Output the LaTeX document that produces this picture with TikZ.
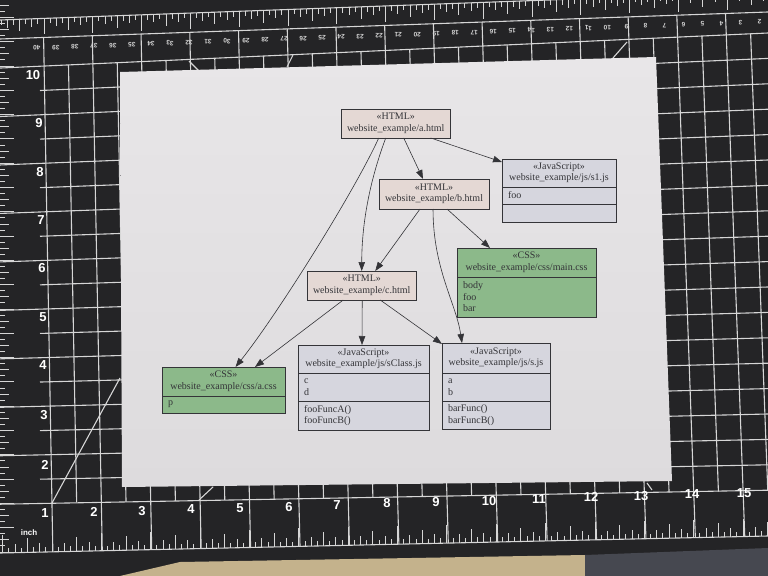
\documentclass[tikz,border=0pt]{standalone}
\usepackage{fontspec}
\setmainfont{Liberation Serif}
\newfontfamily\rulerfont{Liberation Sans}
\usetikzlibrary{arrows.meta,calc}
\definecolor{matbg}{RGB}{36,36,38}
\definecolor{gridc}{RGB}{214,214,214}
\definecolor{paperT}{RGB}{232,230,232}
\definecolor{paperB}{RGB}{221,219,221}
\definecolor{htmlc}{RGB}{228,216,212}
\definecolor{jsc}{RGB}{214,214,222}
\definecolor{cssc}{RGB}{140,185,138}
\definecolor{inkc}{RGB}{52,52,56}
\definecolor{tablec}{RGB}{196,178,140}
\definecolor{floorc}{RGB}{70,72,80}
\tikzset{
  gridline/.style={draw=gridc, line width=1.1bp},
  tickline/.style={draw=gridc, line width=0.9bp},
  uml/.style={draw=inkc, line width=0.7bp, inner xsep=6bp, inner ysep=0bp, outer sep=0bp,
    anchor=north west, text=inkc, font=\fontsize{10bp}{11.5bp}\selectfont},
  htmlbox/.style={uml, fill=htmlc, align=center},
  jshead/.style={uml, fill=jsc, align=center},
  jsfield/.style={uml, fill=jsc, align=left},
  csshead/.style={uml, fill=cssc, align=center},
  cssfield/.style={uml, fill=cssc, align=left},
  edge/.style={draw=inkc, line width=0.6bp, -{Triangle[length=9bp,width=6.5bp]}},
  rulernum/.style={text=white, font=\rulerfont\bfseries\fontsize{13bp}{13bp}\selectfont, inner sep=0},
  cmnum/.style={text=gridc, font=\rulerfont\bfseries\fontsize{6.5bp}{6.5bp}\selectfont, inner sep=0, rotate=178},
}
\begin{document}
\begin{tikzpicture}[x=1bp,y=-1bp]
\useasboundingbox (0,0) rectangle (768,576);
\clip (0,0) rectangle (768,576);
% ---------- cutting mat ----------
\fill[matbg] (0,0) rectangle (768,576);
\fill[tablec] (120,576) -- (180,562) -- (585,555) -- (585,576) -- cycle;
\fill[floorc] (585,555) -- (768,548) -- (768,576) -- (585,576) -- cycle;
\draw[gridline] (0,553) -- (768,536);
% horizontal grid
\foreach \k in {0,...,18}{
  \pgfmathsetmacro\yl{66+24.3*\k}
  \pgfmathsetmacro\yr{33+25.4*\k}
  \pgfmathsetmacro\xs{isodd(\k) ? 40 : 0}
  \pgfmathsetmacro\ys{\yl+(\xs-45)*(\yr-\yl)/723}
  \draw[gridline] (\xs,\ys) -- (768,\yr);
}
% vertical grid
\foreach \j in {0,...,29}{
  \pgfmathsetmacro\xa{44+24.4*\j}
  \pgfmathsetmacro\xb{52+24.7*\j}
  \pgfmathsetmacro\m{(\xb-\xa)/445}
  \pgfmathsetmacro\yt{isodd(\j) ? 66-0.0456*(\xa-45) : 39-0.035*\xa}
  \pgfmathsetmacro\yb{isodd(\j) ? 503-0.017*(\xb-45) : 553-0.022*\xb}
  \draw[gridline] ({\xa+(\yt-60)*\m},\yt) -- ({\xa+(\yb-60)*\m},\yb);
}
% diagonal guides
\draw[gridline] (52,503) -- (120,378);
\draw[gridline] (199,500) -- (213,487);
\draw[gridline] (189,61) -- (199,71);
\draw[gridline] (293,55) -- (287,67);
\draw[gridline] (627,42) -- (613,58);
\draw[gridline] (647,483) -- (652,490);
% left ruler ticks
\foreach \i in {-11,...,80}{
  \pgfmathsetmacro\ty{66+6.075*\i}
  \pgfmathsetmacro\tl{mod(\i,8)==0 ? 14 : (mod(\i,4)==0 ? 14 : (mod(\i,2)==0 ? 9 : 5))}
  \draw[tickline] (0,\ty) -- (\tl,\ty);
}
% bottom ruler ticks
\foreach \i in {-8,...,116}{
  \pgfmathsetmacro\tx{52+6.17*\i}
  \pgfmathsetmacro\ty{553-0.022*\tx}
  \pgfmathsetmacro\tl{mod(\i,8)==0 ? 18 : (mod(\i,4)==0 ? 14 : (mod(\i,2)==0 ? 9 : 5))}
  \draw[tickline] (\tx,\ty) -- (\tx,{\ty-\tl});
}
% top ruler
\draw[gridline] (0,20) -- (768,-8);
\draw[gridline] (0,39) -- (768,12);
\foreach \i in {-8,...,118}{
  \pgfmathsetmacro\tx{44+6.1*\i}
  \pgfmathsetmacro\ty{20-0.036*\tx}
  \pgfmathsetmacro\tl{mod(\i,8)==0 ? 16 : (mod(\i,4)==0 ? 12 : (mod(\i,2)==0 ? 8 : 5))}
  \draw[tickline] (\tx,\ty) -- (\tx,{\ty+\tl});
}
\foreach \n in {2,...,40}{
  \pgfmathsetmacro\cx{36.8+(40-\n)*19.02}
  \pgfmathsetmacro\cy{48-0.036*(\cx-37)}
  \node[cmnum] (cm\n) at (\cx,\cy) {\n};
}
% ruler numbers
\foreach \n/\px/\py in {1/45/513,2/94/512,3/142/511,4/191/509,5/240/508,6/289/507,7/337/505,8/387/503,9/436/502,10/489/501,11/539/499,12/591/497,13/641/496,14/692/494,15/744/493}{
  \node[rulernum] (bn\n) at (\px,\py) {\n};
}
\foreach \n/\px/\py in {10/33/75,9/39/123,8/40/172,7/41/220,6/42/268,5/43/317,4/43/365,3/44/415,2/45/465}{
  \node[rulernum] (ln\n) at (\px,\py) {\n};
}
\node[text=white, font=\rulerfont\bfseries\fontsize{8bp}{8bp}\selectfont, inner sep=0] (inch) at (29,533) {inch};
% ---------- paper ----------
\shade[top color=paperT, bottom color=paperB] (120,72) -- (656,57) -- (672,481) -- (122,487) -- cycle;
% ---------- diagram ----------
\node[htmlbox, minimum width=108bp, minimum height=29bp] (ah) at (341,109) {«HTML»\\website\_example/a.html};
\node[htmlbox, minimum width=110bp, minimum height=30bp] (bh) at (379,179) {«HTML»\\website\_example/b.html};
\node[htmlbox, minimum width=109bp, minimum height=29bp] (ch) at (307,271) {«HTML»\\website\_example/c.html};

\node[jshead, minimum width=114bp, minimum height=28bp] (s1) at (502,159) {«JavaScript»\\website\_example/js/s1.js};
\node[jsfield, text width=102bp, minimum height=17bp] (s1f) at (s1.south west) {foo};
\node[jsfield, text width=102bp, minimum height=18bp] (s1m) at (s1f.south west) {};

\node[csshead, minimum width=139bp, minimum height=29bp] (mc) at (457,248) {«CSS»\\website\_example/css/main.css};
\node[cssfield, text width=127bp, minimum height=40bp] (mcf) at (mc.south west) {body\\foo\\bar};

\node[csshead, minimum width=123bp, minimum height=29bp] (ac) at (162,367) {«CSS»\\website\_example/css/a.css};
\node[cssfield, text width=111bp, minimum height=17bp] (acf) at (ac.south west) {p};

\node[jshead, minimum width=131bp, minimum height=28bp] (sc) at (298,345) {«JavaScript»\\website\_example/js/sClass.js};
\node[jsfield, text width=119bp, minimum height=28bp] (scf) at (sc.south west) {c\\d};
\node[jsfield, text width=119bp, minimum height=29bp] (scm) at (scf.south west) {fooFuncA()\\fooFuncB()};

\node[jshead, minimum width=108bp, minimum height=30bp] (sj) at (442,343) {«JavaScript»\\website\_example/js/s.js};
\node[jsfield, text width=96bp, minimum height=28bp] (sjf) at (sj.south west) {a\\b};
\node[jsfield, text width=96bp, minimum height=28bp] (sjm) at (sjf.south west) {barFunc()\\barFuncB()};

% edges
\draw[edge] ($(ah.south)+(35,0)$) -- ($(s1.north west)+(0,3)$);
\draw[edge] ($(ah.south)+(8,0)$) -- ($(bh.north)+(-11,0)$);
\draw[edge] ($(ah.south)+(-10,0)$) .. controls +(-15,40) and +(0,-50) .. ($(ch.north)+(0,0)$);
\draw[edge] ($(ah.south)+(-17,0)$) .. controls +(-25,55) and +(40,-50) .. ($(ac.north)+(12,0)$);
\draw[edge] ($(bh.south)+(-14,0)$) -- ($(ch.north)+(13.5,0)$);
\draw[edge] ($(bh.south)+(13,0)$) -- ($(mc.north)+(-36.5,0)$);
\draw[edge] ($(bh.south)+(-1,0)$) .. controls +(0,60) and +(-6,-40) .. ($(sj.north)+(-34,0)$);
\draw[edge] ($(ch.south)+(-18.5,0)$) -- ($(ac.north)+(31.5,0)$);
\draw[edge] ($(ch.south)+(0.5,0)$) -- ($(sc.north)+(-1.5,0)$);
\draw[edge] ($(ch.south)+(18.5,0)$) -- ($(sj.north west)+(0,1)$);
\end{tikzpicture}
\end{document}
